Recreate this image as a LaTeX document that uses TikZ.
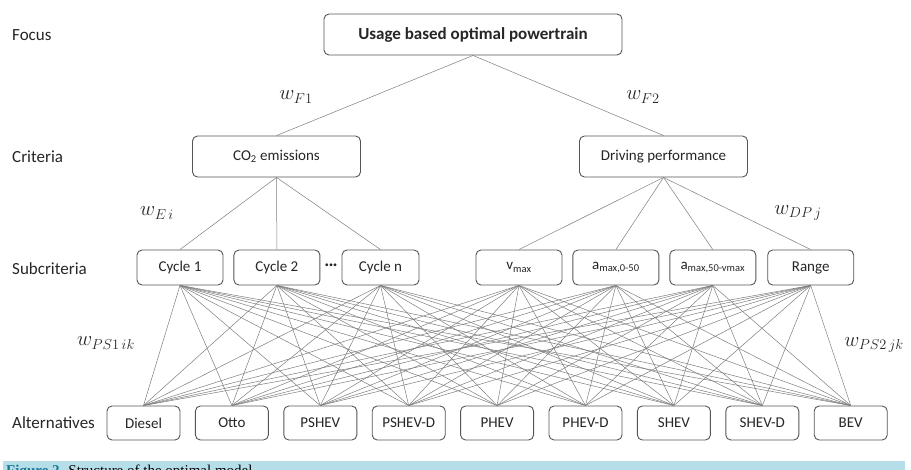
\documentclass[tikz,border=0pt]{standalone}
\usepackage{fontspec}
\setmainfont{Carlito}
\newfontfamily\capfont{Liberation Serif}
\usetikzlibrary{positioning}
\definecolor{boxline}{RGB}{85,85,85}
\definecolor{linkgray}{RGB}{125,125,125}
\definecolor{capblue}{RGB}{182,222,233}
\definecolor{figblue}{RGB}{20,120,150}

\begin{document}
\begin{tikzpicture}[
        x=1pt, y=1pt,
        node distance=10pt,
        box/.style={rectangle, rounded corners=5pt, draw=boxline, line width=0.9pt, fill=white, minimum height=35pt, inner sep=2pt, text=black!85, font=\fontsize{15}{18}\selectfont},
        goal/.style={box, minimum width=298pt, minimum height=41pt, font=\fontsize{17}{20}\selectfont\bfseries},
        crit/.style={box, minimum width=168pt, minimum height=41pt},
        subcrit/.style={box, minimum width=86pt},
        alt/.style={box, minimum width=73pt, minimum height=34pt},
        level/.style={anchor=west, inner sep=0pt, text=black!85, font=\fontsize{17}{20}\selectfont},
        weight/.style={text=black!85, font=\fontsize{20}{24}\selectfont},
        link/.style={draw=linkgray, line width=0.5pt},
    ]
    \useasboundingbox (0,0) rectangle (911,-470);

    % Level names on the left
    \node[level] (focus) at (12,-35) {Focus};
    \node[level] (criteria) at (12,-157) {Criteria};
    \node[level] (subcriteria) at (12,-269) {Subcriteria};
    \node[level] (alternatives) at (12,-423) {Alternatives};

    % Focus and criteria
    \node[goal] (goal) at (473,-34.5) {Usage based optimal powertrain};
    \node[crit] (co2) at (276.5,-156.5) {CO\textsubscript{2} emissions};
    \node[crit] (drive) at (663.5,-156.5) {Driving performance};

    % Subcriteria
    \node[subcrit] (cyc1) at (180,-267.5) {Cycle 1};
    \node[subcrit, right=of cyc1] (cyc2) {Cycle 2};
    \node[subcrit, minimum width=77pt] (cycn) at (380.5,-267.5) {Cycle n};
    \node[inner sep=0pt, text=black!85, font=\fontsize{15}{18}\selectfont\bfseries] (dots) at (331,-267) {···};
    \node[subcrit] (vmax) at (519,-267.5) {v\textsubscript{max}};
    \node[subcrit, right=of vmax] (acc1) {a\textsubscript{max,0-50}};
    \node[subcrit, right=of acc1] (acc2) {a\textsubscript{max,50-vmax}};
    \node[subcrit, right=11pt of acc2] (range) {Range};

    % Alternatives
    \node[alt] (diesel) at (143.5,-423) {Diesel};
    \node[alt, right=14.5pt of diesel] (otto) {Otto};
    \node[alt, right=14.5pt of otto] (pshev) {PSHEV};
    \node[alt, right=14.5pt of pshev] (pshevd) {PSHEV-D};
    \node[alt, right=14.5pt of pshevd] (phev) {PHEV};
    \node[alt, right=14.5pt of phev] (phevd) {PHEV-D};
    \node[alt, right=14.5pt of phevd] (shev) {SHEV};
    \node[alt, right=14.5pt of shev] (shevd) {SHEV-D};
    \node[alt, right=14.5pt of shevd] (bev) {BEV};

    % Weights
    \node[weight] (wf1) at (296,-97) {$w_{F1}$};
    \node[weight] (wf2) at (643,-97) {$w_{F2}$};
    \node[weight] (wei) at (157,-213) {$w_{E\,i}$};
    \node[weight] (wdpj) at (798,-213) {$w_{DP\,j}$};
    \node[weight] (wps1) at (106,-343) {$w_{PS1\,ik}$};
    \node[weight] (wps2) at (874,-345) {$w_{PS2\,jk}$};

    % Links between levels
    \draw[link] (goal.south) -- (co2.north);
    \draw[link] (goal.south) -- (drive.north);
    \foreach \s in {cyc1,cyc2,cycn}
        \draw[link] (co2.south) -- (\s.north);
    \foreach \s in {vmax,acc1,acc2,range}
        \draw[link] (drive.south) -- (\s.north);
    \foreach \s in {cyc1,cyc2,cycn,vmax,acc1,acc2,range}
        \foreach \a in {diesel,otto,pshev,pshevd,phev,phevd,shev,shevd,bev}
            \draw[link] (\s.south) -- (\a.north);

    % Caption bar, cut by the page edge
    \begin{scope}
        \clip (0,-461) rectangle (911,-470);
        \fill[capblue] (3,-461) rectangle (905,-470);
        \node[anchor=north west, inner sep=0pt, font=\capfont\fontsize{15}{18}\selectfont] (caption) at (6,-464.5)
            {\textcolor{figblue}{\textbf{Figure 2.}} Structure of the optimal model};
    \end{scope}
\end{tikzpicture}
\end{document}
